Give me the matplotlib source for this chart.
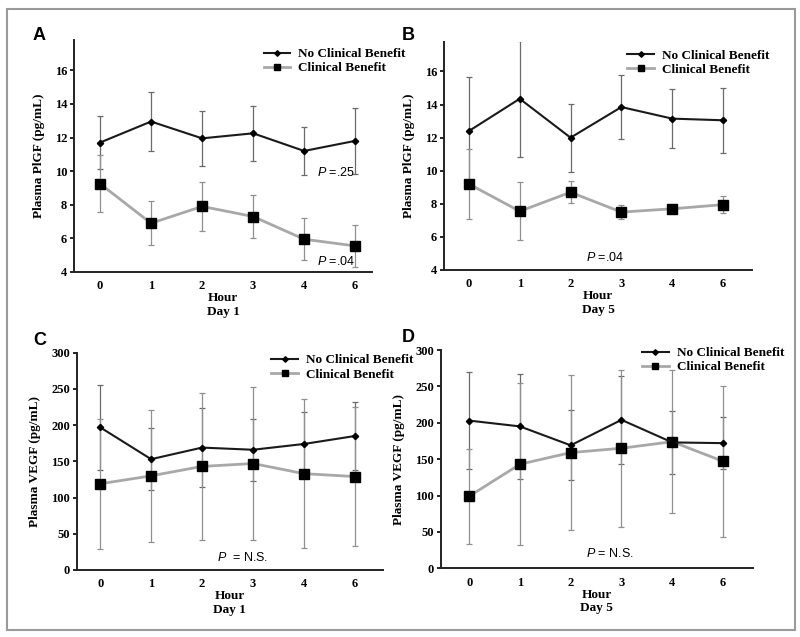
import matplotlib
matplotlib.use("Agg")
import matplotlib.pyplot as plt
from matplotlib.patches import Rectangle
from matplotlib.lines import Line2D
import numpy as np

hours = ["0", "1", "2", "3", "4", "6"]

# Panel A: PlGF Day 1
a_ncb = [11.7, 12.95, 11.95, 12.25, 11.2, 11.8]
a_ncb_err = [1.55, 1.75, 1.65, 1.65, 1.45, 1.95]
a_cb = [9.25, 6.9, 7.9, 7.3, 5.95, 5.55]
a_cb_err = [1.7, 1.3, 1.45, 1.3, 1.25, 1.25]

# Panel B: PlGF Day 5
b_ncb = [12.4, 14.35, 12.0, 13.85, 13.15, 13.05]
b_ncb_err = [3.25, 3.5, 2.05, 1.95, 1.8, 1.95]
b_cb = [9.2, 7.55, 8.7, 7.5, 7.7, 7.95]
b_cb_err = [2.1, 1.75, 0.65, 0.42, 0.2, 0.5]

# Panel C: VEGF Day 1
c_ncb = [197, 153, 169, 166, 174, 185]
c_ncb_err = [59, 43, 54, 43, 44, 47]
c_cb = [119, 130, 143, 147, 133, 129]
c_cb_err = [90, 91, 101, 105, 103, 96]

# Panel D: VEGF Day 5
d_ncb = [203, 195, 169, 204, 173, 172]
d_ncb_err = [67, 72, 48, 60, 43, 36]
d_cb = [99, 143, 159, 165, 174, 147]
d_cb_err = [65, 111, 106, 108, 98, 104]

series_labels = ["No Clinical Benefit", "Clinical Benefit"]

plt.rcParams["mathtext.fontset"] = "custom"
plt.rcParams["mathtext.it"] = "Liberation Sans:italic"
plt.rcParams["mathtext.rm"] = "Liberation Sans"

W, H = 800, 637
fig = plt.figure(figsize=(8, 6.37), dpi=100)
fig.patch.set_facecolor("white")
fig.add_artist(Rectangle((7 / W, 1 - 630 / H), (795 - 7) / W, (630 - 9) / H,
                         transform=fig.transFigure, fill=False,
                         edgecolor="#9a9a9a", lw=1.5))

serif = "Liberation Serif"
sans = "Liberation Sans"

def px_axes(l, r, t, b):
    return fig.add_axes([l / W, 1 - b / H, (r - l) / W, (b - t) / H])

panels = [
    dict(box=(74, 372, 40, 272), xlim=(-0.51, 5.33), ylim=(4, 17.8),
         yticks=[4, 6, 8, 10, 12, 14, 16], ylabel="Plasma PlGF (pg/mL)", day="Day 1",
         ncb=a_ncb, ncbe=a_ncb_err, cb=a_cb, cbe=a_cb_err,
         leg=(0.61, 1.0)),
    dict(box=(444, 752, 41.7, 270), xlim=(-0.49, 5.57), ylim=(4, 17.8),
         yticks=[4, 6, 8, 10, 12, 14, 16], ylabel="Plasma PlGF (pg/mL)", day="Day 5",
         ncb=b_ncb, ncbe=b_ncb_err, cb=b_cb, cbe=b_cb_err,
         leg=(0.57, 1.0)),
    dict(box=(76.7, 383, 352.7, 570), xlim=(-0.46, 5.55), ylim=(0, 300),
         yticks=[0, 50, 100, 150, 200, 250, 300], ylabel="Plasma VEGF (pg/mL)", day="Day 1",
         ncb=c_ncb, ncbe=c_ncb_err, cb=c_cb, cbe=c_cb_err,
         leg=(0.61, 1.03)),
    dict(box=(440.7, 753, 350, 568.3), xlim=(-0.56, 5.59), ylim=(0, 300),
         yticks=[0, 50, 100, 150, 200, 250, 300], ylabel="Plasma VEGF (pg/mL)", day="Day 5",
         ncb=d_ncb, ncbe=d_ncb_err, cb=d_cb, cbe=d_cb_err,
         leg=(0.62, 1.05)),
]

axes = []
for p in panels:
    ax = px_axes(*p["box"])
    axes.append(ax)
    x = np.arange(len(hours))
    ax.errorbar(x, p["ncb"], yerr=p["ncbe"], fmt="none", ecolor="#6a6a6a",
                elinewidth=0.9, capsize=2.5, capthick=0.9, zorder=2)
    ax.errorbar(x, p["cb"], yerr=p["cbe"], fmt="none", ecolor="#909090",
                elinewidth=0.9, capsize=2.5, capthick=0.9, zorder=2)
    ax.plot(x, p["ncb"], color="#1a1a1a", lw=1.5, marker="D", ms=3.2,
            mfc="black", mec="black", zorder=4)
    ax.plot(x, p["cb"], color="#a8a8a8", lw=2.0, marker="s", ms=6.5,
            mfc="black", mec="black", zorder=3)
    ax.set_xlim(*p["xlim"])
    ax.set_ylim(*p["ylim"])
    ax.set_xticks(x)
    ax.set_xticklabels(hours)
    ax.set_yticks(p["yticks"])
    for s in ["top", "right"]:
        ax.spines[s].set_visible(False)
    for s in ["left", "bottom"]:
        ax.spines[s].set_linewidth(1.4)
        ax.spines[s].set_color("#222222")
    ax.tick_params(axis="x", length=0, pad=6)
    ax.tick_params(axis="y", length=3, width=1.2, direction="out", pad=2)
    for lab in ax.get_xticklabels() + ax.get_yticklabels():
        lab.set_fontfamily(serif)
        lab.set_fontweight("bold")
        lab.set_fontsize(9)
    ax.set_ylabel(p["ylabel"], fontfamily=serif, fontweight="bold", fontsize=9.5, labelpad=7)
    ax.set_xlabel("Hour\n" + p["day"], fontfamily=serif, fontweight="bold", fontsize=9.5,
                  linespacing=1.15, labelpad=0)
    handles = [
        Line2D([], [], color="#1a1a1a", lw=1.5, marker="D", ms=2.8, mfc="black", mec="black"),
        Line2D([], [], color="#a8a8a8", lw=2.0, marker="s", ms=5, mfc="black", mec="black"),
    ]
    ax.legend(handles, series_labels, loc="upper left", bbox_to_anchor=p["leg"], frameon=False,
              prop=dict(family=serif, weight="bold", size=9.5),
              handlelength=2.0, handletextpad=0.6, labelspacing=0.15,
              borderaxespad=0.2)

# Panel letters
fig.text(33 / W, 1 - 35 / H, "A", fontfamily=sans, fontweight="bold", fontsize=13, va="center")
fig.text(402 / W, 1 - 35 / H, "B", fontfamily=sans, fontweight="bold", fontsize=13, va="center")
fig.text(33 / W, 1 - 341 / H, "C", fontfamily=sans, fontweight="bold", fontsize=13, va="center")
fig.text(402 / W, 1 - 337 / H, "D", fontfamily=sans, fontweight="bold", fontsize=13, va="center")

# P-value annotations
def ptext(ax, xd, yd, rest):
    ax.text(xd, yd, r"$\it{P}$" + rest, fontfamily=sans, fontsize=9, ha="left", va="center")

ptext(axes[0], 4.25, 9.9, " =.25")
ptext(axes[0], 4.25, 4.6, " =.04")
ptext(axes[1], 2.3, 4.75, " =.04")
ptext(axes[2], 2.3, 17, "  = N.S.")
ptext(axes[3], 2.3, 21, " = N.S.")

fig.savefig("out.png", dpi=100)
